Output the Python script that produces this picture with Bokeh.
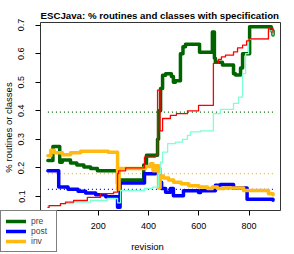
from bokeh.plotting import figure
from bokeh.models import (Range1d, FixedTicker, Legend, LegendItem, ColumnDataSource,
                          LinearAxis, BoxAnnotation, Label)
from bokeh.embed import file_html
from bokeh.resources import INLINE

# ---- data ----
rev_pre = [0, 20, 47, 57, 90, 115, 143, 170, 197, 277, 283, 381, 392, 436, 440, 448, 456,
           468, 491, 499, 507, 527, 537, 547, 603, 654, 662, 666, 694, 738, 746, 766, 774,
           786, 802, 888, 895]
pre = [0.226, 0.275, 0.220, 0.228, 0.217, 0.210, 0.203, 0.198, 0.190, 0.145, 0.158, 0.210,
       0.244, 0.300, 0.400, 0.478, 0.524, 0.530, 0.520, 0.500, 0.505, 0.600, 0.624, 0.633,
       0.605, 0.676, 0.584, 0.570, 0.560, 0.530, 0.525, 0.550, 0.600, 0.600, 0.694, 0.680,
       0.665]

rev_post = [0, 43, 80, 120, 150, 190, 230, 277, 287, 384, 428, 444, 452, 468, 487, 499,
            539, 599, 607, 666, 686, 738, 792, 895]
post = [0.190, 0.133, 0.125, 0.118, 0.112, 0.106, 0.099, 0.062, 0.147, 0.180, 0.200, 0.150,
        0.128, 0.115, 0.128, 0.103, 0.120, 0.114, 0.120, 0.139, 0.142, 0.130, 0.090, 0.087]

rev_inv = [0, 12, 25, 58, 90, 130, 240, 277, 283, 388, 408, 418, 428, 440, 446, 460, 480,
           500, 530, 560, 600, 635, 654, 674, 700, 778, 877, 895]
inv = [0.243, 0.262, 0.253, 0.246, 0.253, 0.258, 0.255, 0.125, 0.198, 0.205, 0.215, 0.190,
       0.208, 0.130, 0.172, 0.165, 0.158, 0.150, 0.145, 0.138, 0.133, 0.128, 0.133, 0.128,
       0.130, 0.121, 0.110, 0.106]

rev_red = [0, 5, 50, 70, 102, 157, 209, 261, 277, 281, 309, 384, 428, 436, 446, 456, 487,
           511, 555, 599, 658, 678, 690, 706, 738, 754, 774, 790, 800, 877, 895]
red = [0.062, 0.068, 0.075, 0.080, 0.086, 0.097, 0.110, 0.115, 0.180, 0.190, 0.200, 0.238,
       0.244, 0.472, 0.330, 0.373, 0.384, 0.390, 0.400, 0.419, 0.566, 0.580, 0.589, 0.595,
       0.606, 0.620, 0.630, 0.645, 0.652, 0.690, 0.675]

rev_aqua = [0, 50, 102, 169, 237, 277, 289, 384, 416, 440, 448, 456, 476, 507, 535, 555,
            567, 607, 658, 686, 738, 758, 774, 786, 798, 877, 895]
aqua = [0.068, 0.075, 0.080, 0.086, 0.093, 0.078, 0.121, 0.128, 0.133, 0.180, 0.220, 0.255,
        0.285, 0.290, 0.300, 0.314, 0.326, 0.330, 0.390, 0.405, 0.426, 0.448, 0.530, 0.600,
        0.650, 0.680, 0.665]

series_names = ["pre", "post", "inv"]
series_means = [0.395, 0.125, 0.180]
mean_span = [0, 895]

x_ticks = [200, 400, 600, 800]
y_ticks = [0.1, 0.2, 0.3, 0.4, 0.5, 0.6, 0.7]

TITLE = "ESCJava: % routines and classes with specification"

# ---- layout / styles ----
W, H = 294, 254
BOX_L, BOX_R, BOX_T, BOX_B = 40, 280, 22, 210   # plot box edges (px) inside the canvas
X_LO, X_HI = -29.4, 924.8                        # axis limits of the plot box
Y_LO, Y_HI = 0.051, 0.709

C_PRE, C_POST, C_INV = "#006400", "#0000FF", "#FFB90F"
C_RED, C_AQUA = "#FF0000", "#7FFFD4"
SERIES_COLORS = [C_PRE, C_POST, C_INV]
FONT = "Liberation Sans"

# the frame spans the whole canvas; the R-style box is drawn inside it
xs = (X_HI - X_LO) / (BOX_R - BOX_L)
ys = (Y_HI - Y_LO) / (BOX_B - BOX_T)
x_range = Range1d(X_LO - BOX_L * xs, X_HI + (W - BOX_R) * xs)
y_range = Range1d(Y_LO - (H - BOX_B) * ys, Y_HI + BOX_T * ys)

p = figure(width=W, height=H, output_backend="svg", toolbar_location=None,
           x_range=x_range, y_range=y_range, x_axis_type=None, y_axis_type=None,
           min_border=0)
p.outline_line_color = None

p.add_layout(Label(x=BOX_L, y=H - 15, x_units="screen", y_units="screen", text=TITLE,
                   text_font=FONT, text_font_size="9.7px", text_font_style="bold",
                   text_align="left", text_baseline="alphabetic", text_color="black"))

xaxis = LinearAxis(fixed_location=Y_LO, ticker=FixedTicker(ticks=x_ticks),
                   axis_label="revision")
yaxis = LinearAxis(fixed_location=X_LO, ticker=FixedTicker(ticks=y_ticks),
                   axis_label="% routines or classes")
for ax in (xaxis, yaxis):
    ax.axis_line_color = None
    ax.major_tick_line_color = "black"
    ax.major_tick_out = 5
    ax.major_tick_in = 0
    ax.minor_tick_line_color = None
    ax.major_label_text_font = FONT
    ax.major_label_text_font_size = "9px"
    ax.major_label_text_color = "black"
    ax.axis_label_text_font = FONT
    ax.axis_label_text_font_size = "9.5px"
    ax.axis_label_text_font_style = "normal"
    ax.axis_label_text_color = "black"
yaxis.major_label_orientation = "vertical"
yaxis.major_label_standoff = 11
yaxis.axis_label_standoff = 2
xaxis.major_label_standoff = 7
xaxis.axis_label_standoff = 9
p.add_layout(xaxis, "below")
p.add_layout(yaxis, "left")

# mean lines (dotted)
for m, c in zip(series_means, SERIES_COLORS):
    p.segment(x0=[mean_span[0]], y0=[m], x1=[mean_span[1]], y1=[m],
              line_color=c, line_width=1.2, line_dash="1 3")

def draw(rev, vals, color, width):
    src = ColumnDataSource(dict(rev=rev, val=vals))
    return p.step(x="rev", y="val", source=src, mode="after", line_color=color,
                  line_width=width, line_join="round", line_cap="round")

r_pre = draw(rev_pre, pre, C_PRE, 3.5)
r_post = draw(rev_post, post, C_POST, 3.5)
r_inv = draw(rev_inv, inv, C_INV, 3.5)
draw(rev_aqua, aqua, C_AQUA, 1.3)
draw(rev_red, red, C_RED, 1.3)

# plot box
p.add_layout(BoxAnnotation(left=X_LO, right=X_HI, bottom=Y_LO, top=Y_HI,
                           fill_alpha=0, line_color="black", line_alpha=0.8,
                           line_width=1))

legend = Legend(items=[LegendItem(label=n, renderers=[r]) for n, r in
                       zip(series_names, [r_pre, r_post, r_inv])],
                location=(0, 2))
legend.border_line_color = "black"
legend.border_line_width = 1
legend.background_fill_color = "white"
legend.background_fill_alpha = 1
legend.padding = 5
legend.spacing = 0
legend.margin = 0
legend.glyph_width = 20
legend.glyph_height = 10
legend.label_height = 10
legend.label_standoff = 5
legend.label_text_font = FONT
legend.label_text_font_size = "8.5px"
p.add_layout(legend)

open("out.html", "w").write(file_html(p, INLINE))
